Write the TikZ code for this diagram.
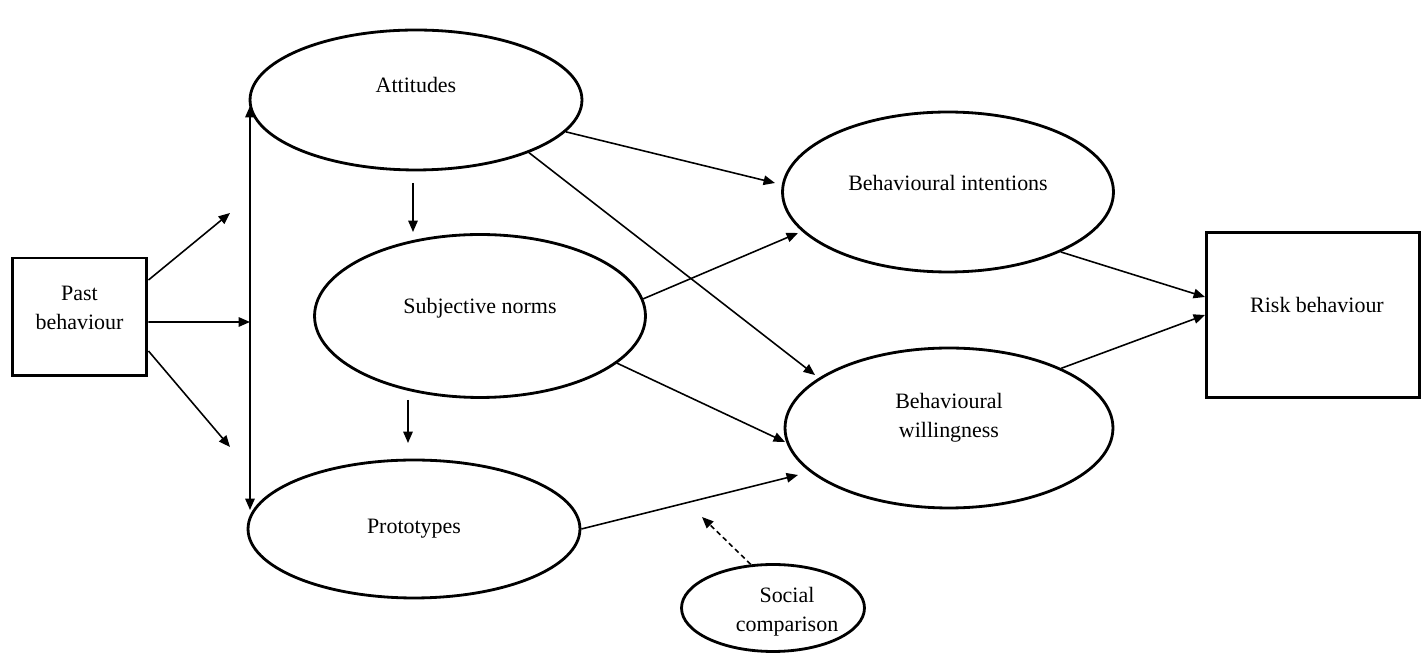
\documentclass[tikz,border=0pt]{standalone}
\usepackage{fontspec}
\setmainfont{Liberation Serif}
\usetikzlibrary{positioning}
\usetikzlibrary{shapes.geometric, arrows.meta}
\tikzstyle{oval} = [ellipse, draw=black, line width=1.6pt, inner sep=0pt]
\tikzstyle{block} = [rectangle, draw=black, line width=1.7pt, inner sep=0pt]
\tikzstyle{link} = [line width=0.9pt,-{Triangle[length=6.5pt,width=5.4pt]}]

\begin{document}
\begin{tikzpicture}[x=0.02cm,y=-0.02cm,font=\fontsize{12.5}{16.5}\selectfont]
      \useasboundingbox (0,0) rectangle (1421,661);
      %%%%%%%%%%%%%%%%%%%%%%%%%%%%%%%%%%%%%%%
      \node (pb) at (79.5,317) [block, minimum width=2.7cm, minimum height=2.36cm,
            label={[align=center, yshift=0.18cm]center:Past\\behaviour}] {};
      \node (att) at (416,100) [oval, minimum width=6.64cm, minimum height=2.8cm,
            label={[yshift=0.3cm]center:Attitudes}] {};
      \node (sn) at (480,316) [oval, minimum width=6.62cm, minimum height=3.26cm,
            label={[yshift=0.16cm]center:Subjective norms}] {};
      \node (pt) at (414,529) [oval, minimum width=6.64cm, minimum height=2.76cm,
            label={center:Prototypes}] {};
      \node (bi) at (948,192) [oval, minimum width=6.62cm, minimum height=3.2cm,
            label={[yshift=0.18cm]center:Behavioural intentions}] {};
      \node (bw) at (949,428) [oval, minimum width=6.56cm, minimum height=3.2cm,
            label={[align=center, yshift=0.2cm]center:Behavioural\\willingness}] {};
      \node (sc) at (773,608) [oval, minimum width=3.66cm, minimum height=1.74cm,
            label={[align=center, xshift=0.28cm, yshift=-0.08cm]center:Social\\comparison}] {};
      \node (rb) at (1313,315) [block, minimum width=4.26cm, minimum height=3.32cm,
            label={[xshift=0.08cm, yshift=0.2cm]center:Risk behaviour}] {};
      %%%%%%%%%%%%%%%%%%%%%%%%%%%%%%%%%%%%%%%
      \coordinate (top) at (250,106);
      \coordinate (bot) at (250,510);
      \coordinate (mid) at (250,322);
      \coordinate (pb-up) at (230,213);
      \coordinate (pb-down) at (230,447);
      \coordinate (att-out) at (413,183);
      \coordinate (sn-in) at (413,232);
      \coordinate (sn-out) at (408,400);
      \coordinate (pt-in) at (408,443);
      \coordinate (bi-in1) at (775,183);
      \coordinate (bi-in2) at (798,233);
      \coordinate (bw-in1) at (815,375);
      \coordinate (bw-in2) at (785,442);
      \coordinate (bw-in3) at (798,475);
      \coordinate (bw-in4) at (702,517);
      %%%%%%%%%%%%%%%%%%%%%%%%%%%%%%%%%%%%%%%
      \draw [line width=0.9pt,{Triangle[length=6.5pt,width=5.4pt]}-{Triangle[length=6.5pt,width=5.4pt]}] (top)--(bot);
      \draw [link] ([yshift=0.74cm]pb.east)--(pb-up);
      \draw [link] ([yshift=-0.1cm]pb.east)--(mid);
      \draw [link] ([yshift=-0.68cm]pb.east)--(pb-down);
      \draw [link] (att-out)--(sn-in);
      \draw [link] (sn-out)--(pt-in);
      \draw [link] (att.-12)--(bi-in1);
      \draw [link] (att.-25)--(bw-in1);
      \draw [link] (sn.6)--(bi-in2);
      \draw [link] (sn.-19)--(bw-in2);
      \draw [link] (pt.east)--(bw-in3);
      \draw [link, dash pattern=on 0.1cm off 0.07cm] (sc.117)--(bw-in4);
      \draw [link] (bi.-28)--([yshift=0.36cm]rb.west);
      \draw [link] (bw.28)--(rb.west);
      \end{tikzpicture}
\end{document}
